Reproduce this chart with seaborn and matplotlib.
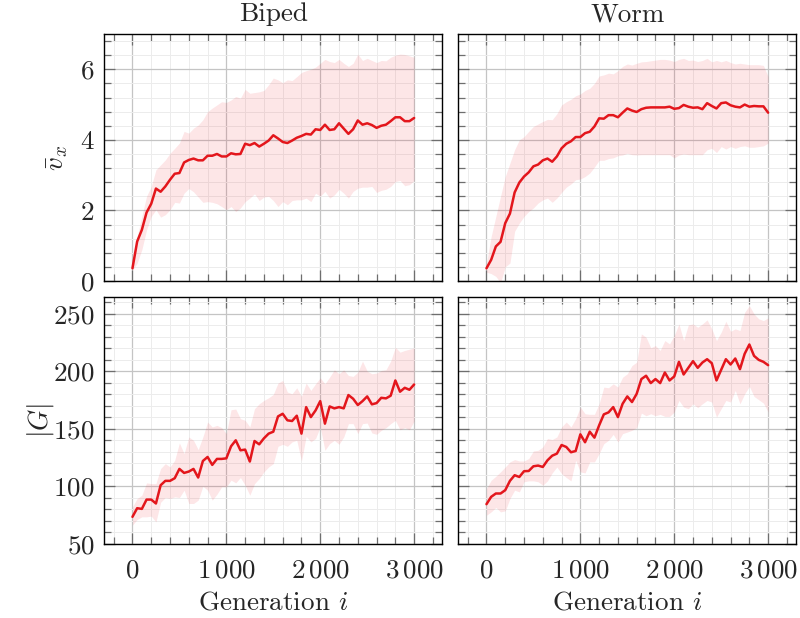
import matplotlib
matplotlib.use("Agg")
from matplotlib import pyplot as plt
from matplotlib.ticker import MultipleLocator, FuncFormatter
import numpy as np
import pandas as pd
import seaborn as sns

# generations sampled every 50 steps
gens = list(range(0, 3001, 50))

# mean forward speed, Biped
biped_v_mean = [0.36, 1.12, 1.45, 1.94, 2.19, 2.62, 2.53, 2.68, 2.87, 3.04,
                3.06, 3.36, 3.43, 3.47, 3.42, 3.42, 3.55, 3.55, 3.60, 3.53,
                3.53, 3.62, 3.59, 3.60, 3.89, 3.85, 3.91, 3.81, 3.89, 3.98,
                4.13, 4.04, 3.94, 3.91, 3.98, 4.06, 4.11, 4.17, 4.15, 4.30,
                4.28, 4.43, 4.28, 4.30, 4.47, 4.32, 4.17, 4.30, 4.55, 4.43,
                4.47, 4.42, 4.34, 4.40, 4.43, 4.53, 4.64, 4.64, 4.53, 4.53,
                4.62]
biped_v_hi = [0.45, 1.26, 1.83, 2.40, 2.68, 3.15, 3.29, 3.43, 3.62, 3.76,
              3.91, 4.24, 4.19, 4.33, 4.42, 4.57, 4.80, 4.90, 4.99, 5.08,
              5.06, 5.13, 5.23, 5.18, 5.43, 5.32, 5.34, 5.36, 5.40, 5.56,
              5.75, 5.70, 5.62, 5.70, 5.68, 5.79, 5.91, 5.96, 6.00, 6.06,
              6.17, 6.28, 6.22, 6.19, 6.28, 6.17, 6.08, 6.17, 6.43, 6.25,
              6.31, 6.25, 6.19, 6.25, 6.24, 6.34, 6.40, 6.43, 6.42, 6.38,
              6.34]
biped_v_lo = [0.30, 0.51, 0.89, 1.45, 1.83, 2.02, 1.81, 1.88, 2.02, 2.23,
              2.21, 2.49, 2.62, 2.53, 2.38, 2.23, 2.25, 2.23, 2.19, 2.11,
              2.02, 2.11, 1.97, 2.07, 2.25, 2.35, 2.47, 2.28, 2.38, 2.40,
              2.28, 2.11, 2.25, 2.16, 2.28, 2.30, 2.30, 2.35, 2.25, 2.49,
              2.40, 2.54, 2.35, 2.44, 2.60, 2.49, 2.35, 2.54, 2.63, 2.66,
              2.66, 2.68, 2.51, 2.57, 2.60, 2.68, 2.82, 2.85, 2.70, 2.73,
              2.85]

# mean forward speed, Worm
worm_v_mean = [0.36, 0.60, 0.98, 1.11, 1.64, 1.91, 2.51, 2.79, 2.96, 3.08,
               3.25, 3.30, 3.42, 3.47, 3.38, 3.53, 3.76, 3.89, 3.96, 4.08,
               4.08, 4.19, 4.23, 4.38, 4.61, 4.60, 4.70, 4.70, 4.64, 4.77,
               4.89, 4.83, 4.79, 4.87, 4.91, 4.92, 4.92, 4.92, 4.92, 4.94,
               4.88, 4.90, 4.99, 4.94, 4.91, 4.92, 4.87, 5.04, 4.96, 4.89,
               5.04, 5.06, 4.98, 4.94, 4.92, 5.00, 4.94, 4.96, 4.95, 4.95,
               4.77]
worm_v_hi = [0.50, 1.26, 1.83, 2.40, 2.96, 3.34, 3.72, 4.00, 4.09, 4.24,
             4.38, 4.45, 4.52, 4.58, 4.57, 4.74, 4.99, 5.08, 5.15, 5.25,
             5.30, 5.40, 5.46, 5.60, 5.81, 5.84, 5.89, 5.87, 5.96, 6.08,
             6.15, 6.12, 6.17, 6.21, 6.22, 6.24, 6.26, 6.28, 6.28, 6.26,
             6.22, 6.28, 6.31, 6.25, 6.26, 6.22, 6.25, 6.31, 6.21, 6.25,
             6.21, 6.25, 6.19, 6.15, 6.17, 6.15, 6.13, 6.13, 6.13, 6.11,
             5.79]
worm_v_lo = [0.25, 0.21, 0.13, -0.05, 0.40, 0.51, 1.41, 1.64, 1.83, 1.97,
             2.07, 2.21, 2.30, 2.35, 2.23, 2.35, 2.51, 2.66, 2.75, 2.87,
             2.89, 2.96, 3.06, 3.23, 3.42, 3.42, 3.47, 3.49, 3.55, 3.57,
             3.62, 3.58, 3.57, 3.58, 3.58, 3.58, 3.58, 3.58, 3.58, 3.58,
             3.49, 3.57, 3.60, 3.58, 3.58, 3.58, 3.58, 3.72, 3.76, 3.64,
             3.81, 3.74, 3.81, 3.76, 3.81, 3.83, 3.79, 3.79, 3.81, 3.83,
             3.91]

# genome size |G|, Biped
biped_g_mean = [73.4, 80.9, 80.3, 88.4, 88.4, 85.0, 100.9, 104.7, 104.7, 107.0,
                115.1, 111.6, 112.8, 115.1, 107.6, 122.0, 125.5, 118.6, 123.8, 123.8,
                124.3, 134.8, 140.0, 131.3, 131.9, 121.5, 139.4, 136.5, 141.7, 145.8,
                147.5, 160.8, 163.1, 157.4, 156.8, 161.4, 145.8, 168.9, 160.2, 166.0,
                174.1, 154.5, 169.5, 167.8, 168.9, 167.8, 179.4, 176.2, 170.7, 174.1,
                178.2, 171.3, 172.4, 177.0, 176.5, 178.8, 192.1, 182.3, 185.7, 184.0,
                188.6]
biped_g_hi = [82.1, 89.3, 92.2, 102.9, 102.3, 102.3, 115.4, 119.7, 116.8, 122.6,
              137.7, 128.4, 142.9, 140.0, 131.9, 142.9, 155.9, 151.6, 153.0, 151.0,
              145.8, 166.6, 167.2, 158.8, 157.4, 151.6, 167.5, 171.8, 174.7, 177.0,
              179.9, 189.8, 192.1, 182.0, 180.5, 185.7, 178.2, 189.8, 183.4, 189.2,
              194.4, 189.2, 195.0, 201.4, 197.9, 201.4, 196.4, 195.6, 199.3, 208.9,
              200.2, 197.9, 198.5, 200.8, 201.4, 208.9, 221.0, 216.7, 218.2, 219.3,
              220.5]
biped_g_lo = [66.2, 71.1, 73.4, 73.4, 74.0, 69.0, 86.1, 90.2, 89.3, 90.8,
              90.2, 96.6, 85.0, 85.0, 87.9, 100.0, 96.6, 87.9, 93.1, 99.5,
              99.5, 105.3, 103.0, 107.6, 100.9, 92.2, 102.3, 106.7, 112.5, 116.8,
              119.7, 134.8, 136.5, 134.8, 138.6, 140.0, 122.0, 143.5, 138.6, 141.6,
              151.6, 131.3, 137.1, 140.0, 136.5, 142.9, 154.5, 154.5, 145.8, 154.5,
              155.0, 146.4, 145.2, 148.7, 151.0, 154.5, 157.4, 149.2, 151.0, 149.2,
              156.8]

# genome size |G|, Worm
worm_g_mean = [84.4, 90.8, 93.7, 93.7, 96.6, 104.7, 109.6, 108.1, 113.1, 113.3,
               117.4, 118.0, 116.8, 122.6, 126.6, 128.4, 135.9, 134.2, 129.6, 130.7,
               145.2, 138.3, 147.5, 142.3, 153.0, 162.6, 164.3, 168.9, 160.2, 171.8,
               178.2, 173.3, 180.5, 193.3, 196.2, 189.8, 193.3, 189.8, 199.0, 192.1,
               195.6, 208.3, 197.3, 203.1, 208.9, 203.1, 207.7, 210.6, 207.1, 192.1,
               201.4, 210.6, 206.0, 211.2, 201.9, 215.3, 223.4, 213.5, 210.0, 208.3,
               205.4]
worm_g_hi = [98.0, 105.2, 108.7, 112.5, 116.8, 121.2, 123.2, 122.0, 122.0, 124.1,
             130.7, 131.3, 134.2, 141.6, 140.7, 142.9, 151.6, 155.9, 151.6, 158.8,
             168.9, 163.1, 162.6, 162.6, 171.8, 186.3, 185.7, 189.2, 186.3, 194.9,
             197.9, 205.1, 208.0, 232.6, 229.7, 220.5, 222.5, 218.2, 226.8, 223.9,
             231.2, 241.3, 226.8, 240.4, 241.3, 238.4, 241.3, 244.8, 237.0, 226.8,
             234.1, 243.6, 234.9, 237.0, 235.5, 251.4, 257.2, 250.0, 245.7, 244.2,
             246.5]
worm_g_lo = [74.8, 77.7, 81.5, 77.7, 78.6, 89.3, 96.6, 95.1, 103.9, 104.7,
             104.7, 103.9, 100.9, 104.7, 111.6, 116.8, 111.0, 107.6, 104.7, 122.6,
             112.5, 111.6, 121.2, 121.2, 128.4, 137.1, 140.0, 145.2, 138.6, 145.8,
             147.2, 148.7, 151.0, 163.7, 161.4, 163.1, 161.4, 162.6, 160.8, 160.8,
             164.6, 174.7, 168.9, 167.5, 171.8, 168.4, 171.8, 174.7, 173.3, 160.2,
             167.5, 174.7, 173.3, 183.4, 171.8, 180.5, 186.9, 178.2, 175.3, 172.4,
             164.6]

robots = ["Biped", "Worm"]
ylabels = [r"$\bar{v}_x$", r"$|G|$"]
series = [
    [(biped_v_mean, biped_v_lo, biped_v_hi), (worm_v_mean, worm_v_lo, worm_v_hi)],
    [(biped_g_mean, biped_g_lo, biped_g_hi), (worm_g_mean, worm_g_lo, worm_g_hi)],
]

LINE = "#e3161c"
FILL = "#ee1c2a"
FS = 19.5

sns.set_style("white")
plt.rcParams.update({
    "font.family": ["cmr10", "DejaVu Serif"],
    "mathtext.fontset": "cm",
    "font.size": FS,
    "axes.unicode_minus": False,
})


def thousands(v, pos):
    v = int(round(v))
    if v >= 1000:
        return r"$%d\,%03d$" % (v // 1000, v % 1000)
    return r"$%d$" % v


fig = plt.figure(figsize=(8, 6.18), dpi=100)
W, H = 800, 618
col_x = [104.3, 458.3]
row_y = [34, 296.7]
aw, ah = 338, 247
# right edge of the rotated y labels, in axes fraction
ylabel_x = [(70 - 104.3) / aw, (56 - 104.3) / aw]

axes = [[None, None], [None, None]]
for r in range(2):
    for c in range(2):
        ax = fig.add_axes([col_x[c] / W, 1 - (row_y[r] + ah) / H, aw / W, ah / H])
        axes[r][c] = ax
        mean, lo, hi = series[r][c]
        df = pd.DataFrame({"gen": gens, "mean": mean, "lo": lo, "hi": hi})
        ax.fill_between(df["gen"], df["lo"], df["hi"], color=FILL, alpha=0.11,
                        lw=0, zorder=1)
        sns.lineplot(data=df, x="gen", y="mean", ax=ax, color=LINE, lw=1.8, zorder=3)

        ax.set_xlim(-300, 3300)
        ax.xaxis.set_major_locator(MultipleLocator(1000))
        ax.xaxis.set_minor_locator(MultipleLocator(200))
        if r == 0:
            ax.set_ylim(0, 7)
            ax.yaxis.set_major_locator(MultipleLocator(2))
            ax.yaxis.set_minor_locator(MultipleLocator(0.4))
        else:
            ax.set_ylim(50, 265)
            ax.yaxis.set_major_locator(MultipleLocator(50))
            ax.yaxis.set_minor_locator(MultipleLocator(10))

        ax.xaxis.set_major_formatter(FuncFormatter(thousands))
        ax.yaxis.set_major_formatter(FuncFormatter(thousands))

        ax.grid(True, which="major", color="#c4c4c4", lw=0.9, zorder=0)
        ax.grid(True, which="minor", color="#ececec", lw=0.7, zorder=0)
        ax.set_axisbelow(True)
        ax.tick_params(which="both", direction="in", top=True, right=True,
                       bottom=True, left=True, color="#6e6e6e", width=0.9)
        ax.tick_params(which="major", length=8, labelsize=FS)
        ax.tick_params(axis="x", which="major", pad=11)
        ax.tick_params(axis="y", which="major", pad=7)
        ax.tick_params(which="minor", length=5)
        for s in ax.spines.values():
            s.set_color("black")
            s.set_linewidth(1.0)

        ax.set_xlabel("")
        ax.set_ylabel("")
        if r == 0:
            ax.tick_params(labelbottom=False)
            ax.set_title(robots[c], fontsize=FS, pad=9)
        else:
            ax.set_xlabel(r"Generation $i$", fontsize=FS, labelpad=6)
        if c == 1:
            ax.tick_params(labelleft=False)
        else:
            ax.set_ylabel(ylabels[r], fontsize=FS)
            ax.yaxis.set_label_coords(ylabel_x[r], 0.5)

fig.savefig("out.png", dpi=100)
